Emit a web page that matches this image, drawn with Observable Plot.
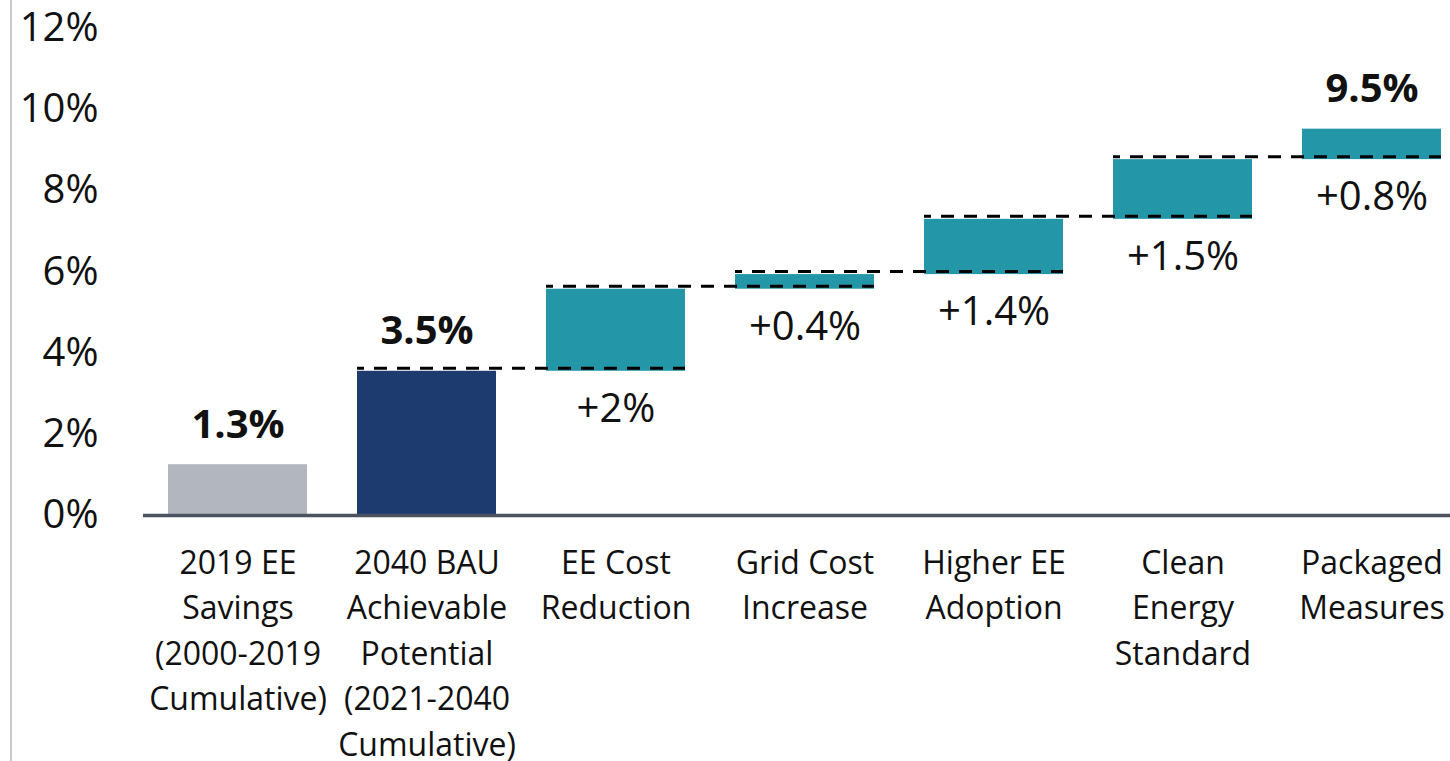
<!DOCTYPE html>
<html><head><meta charset="utf-8">
<script src="https://cdn.jsdelivr.net/npm/d3@7"></script>
<script src="https://cdn.jsdelivr.net/npm/@observablehq/plot@0.6"></script>
<style>
html,body{margin:0;padding:0;background:#fff;overflow:hidden}
#wrap{position:relative;width:1450px;height:761px;overflow:hidden}
#border{position:absolute;left:10px;top:0;width:2px;height:761px;background:#c9c9c9}
#chart{position:absolute;left:0;top:0}
</style></head><body>
<div id="wrap"><div id="chart"></div><div id="border"></div></div>
<script>
const categories = [
  "2019 EE Savings (2000-2019 Cumulative)",
  "2040 BAU Achievable Potential (2021-2040 Cumulative)",
  "EE Cost Reduction",
  "Grid Cost Increase",
  "Higher EE Adoption",
  "Clean Energy Standard",
  "Packaged Measures"
];
const tickLabels = [
  "2019 EE\nSavings\n(2000-2019\nCumulative)",
  "2040 BAU\nAchievable\nPotential\n(2021-2040\nCumulative)",
  "EE Cost\nReduction",
  "Grid Cost\nIncrease",
  "Higher EE\nAdoption",
  "Clean\nEnergy\nStandard",
  "Packaged\nMeasures"
];
const kinds = ["base", "total", "step", "step", "step", "step", "step"];
const totals = [1.25, 3.55];
const increments = [2.02, 0.36, 1.36, 1.47, 0.75];
const stepLabels = ["", "", "+2%", "+0.4%", "+1.4%", "+1.5%", "+0.8%"];
const totalLabels = ["1.3%", "3.5%", "", "", "", "", "9.5%"];
const yTicks = [0, 2, 4, 6, 8, 10, 12];

const colors = {base: "#b2b7bf", total: "#1e3b6f", step: "#2397a8"};

const rows = [];
rows.push({cat: categories[0], kind: kinds[0], y1: 0, y2: totals[0], step: stepLabels[0], total: totalLabels[0]});
rows.push({cat: categories[1], kind: kinds[1], y1: 0, y2: totals[1], step: stepLabels[1], total: totalLabels[1]});
let level = totals[1];
increments.forEach((d, i) => {
  rows.push({cat: categories[i + 2], kind: kinds[i + 2], y1: level, y2: level + d, step: stepLabels[i + 2], total: totalLabels[i + 2]});
  level += d;
});
const connectors = rows.slice(1, -1).map((r, i) => ({from: r.cat, to: rows[i + 2].cat, y: r.y2}));

const chart = Plot.plot({
  width: 1450, height: 761,
  marginLeft: 143, marginRight: 0, marginTop: 0, marginBottom: 246,
  style: {fontFamily: "'Open Sans', sans-serif", background: "transparent", color: "#111", overflow: "visible"},
  x: {domain: categories, range: [117, 1492], padding: 0.263, axis: null},
  y: {domain: [0, 12], range: [515, 27.5], axis: null},
  color: {type: "identity"},
  marks: [
    Plot.barY(rows, {x: "cat", y1: "y1", y2: "y2", fill: d => colors[d.kind]}),
    Plot.ruleY(connectors, {x1: "from", x2: "to", y: "y", stroke: "#000", strokeWidth: 3, strokeDasharray: "13,10", strokeDashoffset: 6, dy: -3}),
    Plot.ruleY([0], {stroke: "#4b5360", strokeWidth: 3.5}),
    Plot.axisY(yTicks, {anchor: "left", tickSize: 0, tickPadding: 45, tickFormat: d => d + "%", fontSize: 40}),
    Plot.axisX({anchor: "bottom", tickSize: 0, tickPadding: 26, tickFormat: d => tickLabels[categories.indexOf(d)], fontSize: 32, lineHeight: 1.42}),
    Plot.text(rows.filter(d => d.total), {x: "cat", y: "y2", text: "total", dy: -40, fontSize: 40, fontWeight: "bold", fill: "#111"}),
    Plot.text(rows.filter(d => d.step), {x: "cat", y: "y1", text: "step", dy: 38, fontSize: 40, fill: "#111"})
  ]
});
document.getElementById("chart").appendChild(chart);
</script>
</body></html>
